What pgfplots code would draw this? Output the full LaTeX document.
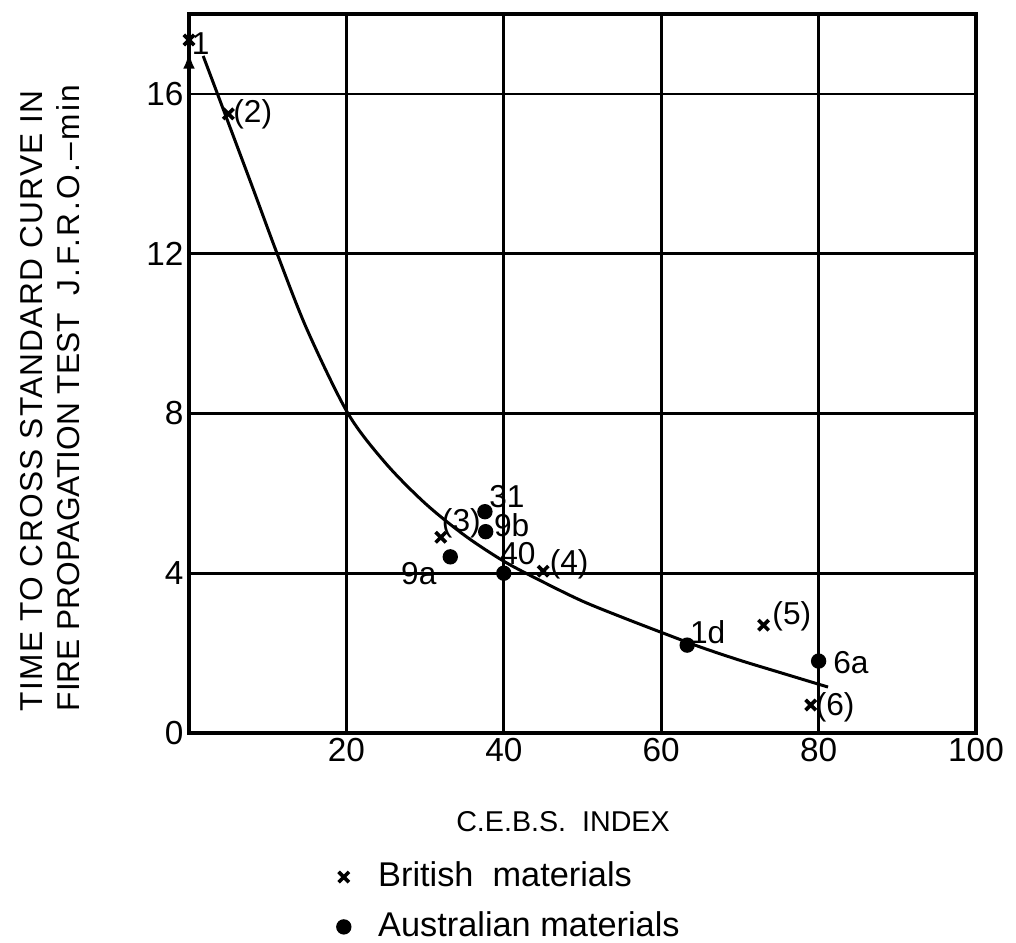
\documentclass[border=0pt]{standalone}
\usepackage{fontspec}
\setmainfont{Liberation Sans}
\newfontfamily\lbl[LetterSpace=4]{Liberation Sans}
\newfontfamily\lblwide[LetterSpace=8]{Liberation Sans}
\usepackage{pgfplots}
\pgfplotsset{compat=1.18}
\usetikzlibrary{arrows.meta}
\begin{document}
\begin{tikzpicture}
\useasboundingbox (-56.7pt,-63pt) rectangle (248.1pt,219.9pt);
\begin{axis}[
  at={(0pt,0pt)}, anchor=south west,
  scale only axis, width=236.1pt, height=215.7pt,
  xmin=0, xmax=100, ymin=0, ymax=18,
  axis line style={line width=1pt},
  xtick={20,40,60,80,100}, ytick={0,4,8,12,16},
  major tick length=0pt,
  grid=major, major grid style={line width=0.8pt, black},
  tick label style={font=\fontsize{10}{12}\selectfont},
  xticklabel style={inner sep=1.5pt},
  yticklabel style={inner sep=1.5pt},
  /pgf/number format/assume math mode=true,
  clip=false,
  legend style={draw=none, fill=none, inner sep=0pt,
    at={(axis description cs:0.187,-0.235)}, anchor=west,
    font=\fontsize{10.3}{12}\selectfont, row sep=1pt,
    nodes={inner sep=2.5pt},
    /tikz/every odd column/.append style={column sep=5.7pt}},
  legend cell align=left,
]
% fitted curve
\addplot[smooth, line width=0.9pt, forget plot] coordinates {
(1.8,16.95) (4,15.8) (8,13.7) (11.2,12.0) (15,10.1) (20.2,8.0) (25,6.75)
(30,5.75) (35,4.95) (40,4.3) (45,3.78) (50,3.3) (55,2.9) (60,2.52)
(65,2.15) (70,1.82) (75,1.52) (81.2,1.15)};
% arrow on y axis
\addplot[line width=0.9pt, -{Latex[length=5pt,width=3.5pt]}, forget plot] coordinates {(0,16) (0,17.05)};
% British materials
\addplot[only marks, mark=x, mark size=2.2pt, line width=1.1pt] coordinates {
(0,17.35) (5,15.5) (32,4.9) (45,4.05) (73,2.7) (79,0.7)};
\addlegendentry{British\ \ materials}
% Australian materials
\addplot[only marks, mark=*, mark size=2.1pt] coordinates {
(37.6,5.54) (37.7,5.04) (33.2,4.41) (40,4.0) (63.3,2.2) (80,1.8)};
\addlegendentry{Australian materials}
% point labels
\begin{scope}[font=\fontsize{9.5}{11}\selectfont, inner sep=0pt]
\node at (axis cs:1.5,17.25) {1};
\node at (axis cs:8.1,15.5) {(2)};
\node at (axis cs:34.6,5.26) {(3)};
\node at (axis cs:40.4,5.92) {31};
\node at (axis cs:41.0,5.2) {9b};
\node at (axis cs:41.8,4.5) {40};
\node at (axis cs:29.2,3.98) {9a};
\node at (axis cs:48.3,4.23) {(4)};
\node at (axis cs:65.9,2.53) {1d};
\node at (axis cs:76.6,2.93) {(5)};
\node at (axis cs:84.1,1.75) {6a};
\node at (axis cs:82.1,0.65) {(6)};
\end{scope}
\end{axis}
\node[rotate=90, anchor=north west, align=left, inner sep=0pt,
  font=\fontsize{9.5}{11}\selectfont] at (-50.7pt,6.3pt)
  {{\lbl TIME TO CROSS STANDARD CURVE IN}\\FIRE PROPAGATION TEST\ \ {\lblwide J.F.R.O.\textendash min}};
\node[font=\fontsize{8.6}{10}\selectfont] at (112.2pt,-26.7pt) {C.E.B.S.\ \ INDEX};
\end{tikzpicture}
\end{document}
